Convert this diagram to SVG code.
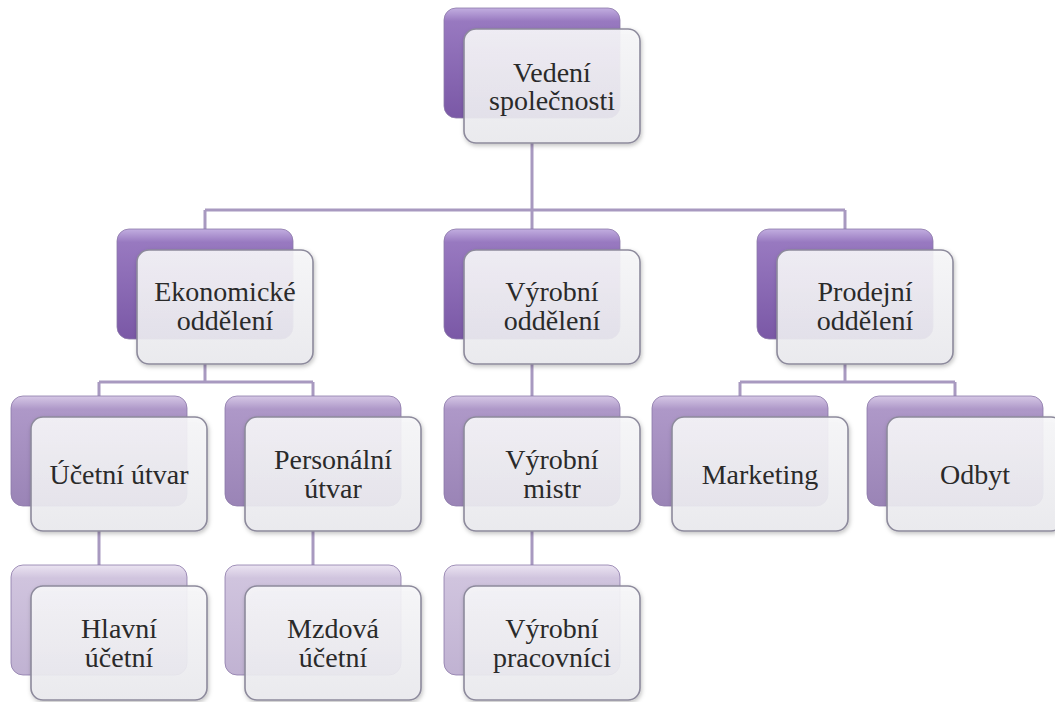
<svg xmlns="http://www.w3.org/2000/svg" width="1055" height="702" viewBox="0 0 1055 702">
<defs>
<linearGradient id="gDark" x1="0" y1="0" x2="0" y2="1">
<stop offset="0" stop-color="#c2aee0"/>
<stop offset="0.12" stop-color="#9879c0"/>
<stop offset="1" stop-color="#7a58a6"/>
</linearGradient>
<linearGradient id="gMid" x1="0" y1="0" x2="0" y2="1">
<stop offset="0" stop-color="#d6c8e6"/>
<stop offset="0.12" stop-color="#ae98c8"/>
<stop offset="1" stop-color="#9a84b6"/>
</linearGradient>
<linearGradient id="gLight" x1="0" y1="0" x2="0" y2="1">
<stop offset="0" stop-color="#ebe4f2"/>
<stop offset="0.12" stop-color="#d0c4de"/>
<stop offset="1" stop-color="#c0b2d2"/>
</linearGradient>
<linearGradient id="gFront" x1="0" y1="0" x2="0" y2="1">
<stop offset="0" stop-color="#f8f8fa"/>
<stop offset="1" stop-color="#ebebef"/>
</linearGradient>
<filter id="sh" x="-10%" y="-10%" width="125%" height="125%">
<feDropShadow dx="1" dy="2" stdDeviation="2" flood-color="#000" flood-opacity="0.25"/>
</filter>
</defs>
<style>
.bk{stroke:#8c78a8;stroke-width:0.8}
.d{fill:url(#gDark)}
.m{fill:url(#gMid)}
.l{fill:url(#gLight)}
.fr{fill:url(#gFront);fill-opacity:0.9;stroke:#8d8a9c;stroke-width:1.6;filter:url(#sh)}
.t{font-family:'Liberation Serif','Times New Roman',Tinos,'DejaVu Serif','Noto Serif',Times,serif;font-size:28px;fill:#2a2a2a;text-anchor:middle}
.c{fill:none;stroke:#a899c0;stroke-width:3}
</style>
<rect width="1055" height="702" fill="#ffffff"/>
<g id="connectors">
<path class="c" d="M532 143 V210 M205 210 H845 M205 210 V229 M532 210 V229 M845 210 V229"/>
<path class="c" d="M205 364 V382 M99 382 H313 M99 382 V396 M313 382 V396"/>
<path class="c" d="M532 364 V396"/>
<path class="c" d="M845 364 V382 M740 382 H955 M740 382 V396 M955 382 V396"/>
<path class="c" d="M99 531 V565 M313 531 V565 M532 531 V565"/>
</g>
<g id="n-vedeni">
<rect class="bk d" x="444" y="8" width="176" height="110" rx="12"/>
<rect class="fr" x="464" y="29" width="176" height="114" rx="12"/>
<text class="t" x="552" y="82">Vedení</text>
<text class="t" x="552" y="110">společnosti</text>
</g>
<g id="n-ekonomicke">
<rect class="bk d" x="117" y="229" width="176" height="110" rx="12"/>
<rect class="fr" x="137" y="250" width="176" height="114" rx="12"/>
<text class="t" x="225" y="301">Ekonomické</text>
<text class="t" x="225" y="330">oddělení</text>
</g>
<g id="n-vyrobni">
<rect class="bk d" x="444" y="229" width="176" height="110" rx="12"/>
<rect class="fr" x="464" y="250" width="176" height="114" rx="12"/>
<text class="t" x="552" y="301">Výrobní</text>
<text class="t" x="552" y="330">oddělení</text>
</g>
<g id="n-prodejni">
<rect class="bk d" x="757" y="229" width="176" height="110" rx="12"/>
<rect class="fr" x="777" y="250" width="176" height="114" rx="12"/>
<text class="t" x="865" y="301">Prodejní</text>
<text class="t" x="865" y="330">oddělení</text>
</g>
<g id="n-ucetni-utvar">
<rect class="bk m" x="11" y="396" width="176" height="110" rx="12"/>
<rect class="fr" x="31" y="417" width="176" height="114" rx="12"/>
<text class="t" x="119" y="484">Účetní útvar</text>
</g>
<g id="n-personalni">
<rect class="bk m" x="225" y="396" width="176" height="110" rx="12"/>
<rect class="fr" x="245" y="417" width="176" height="114" rx="12"/>
<text class="t" x="333" y="469">Personální</text>
<text class="t" x="333" y="498">útvar</text>
</g>
<g id="n-mistr">
<rect class="bk m" x="444" y="396" width="176" height="110" rx="12"/>
<rect class="fr" x="464" y="417" width="176" height="114" rx="12"/>
<text class="t" x="552" y="469">Výrobní</text>
<text class="t" x="552" y="498">mistr</text>
</g>
<g id="n-marketing">
<rect class="bk m" x="652" y="396" width="176" height="110" rx="12"/>
<rect class="fr" x="672" y="417" width="176" height="114" rx="12"/>
<text class="t" x="760" y="484">Marketing</text>
</g>
<g id="n-odbyt">
<rect class="bk m" x="867" y="396" width="176" height="110" rx="12"/>
<rect class="fr" x="887" y="417" width="176" height="114" rx="12"/>
<text class="t" x="975" y="484">Odbyt</text>
</g>
<g id="n-hlavni">
<rect class="bk l" x="11" y="565" width="176" height="110" rx="12"/>
<rect class="fr" x="31" y="586" width="176" height="114" rx="12"/>
<text class="t" x="119" y="638">Hlavní</text>
<text class="t" x="119" y="667">účetní</text>
</g>
<g id="n-mzdova">
<rect class="bk l" x="225" y="565" width="176" height="110" rx="12"/>
<rect class="fr" x="245" y="586" width="176" height="114" rx="12"/>
<text class="t" x="333" y="638">Mzdová</text>
<text class="t" x="333" y="667">účetní</text>
</g>
<g id="n-pracovnici">
<rect class="bk l" x="444" y="565" width="176" height="110" rx="12"/>
<rect class="fr" x="464" y="586" width="176" height="114" rx="12"/>
<text class="t" x="552" y="638">Výrobní</text>
<text class="t" x="552" y="667">pracovníci</text>
</g>
</svg>
